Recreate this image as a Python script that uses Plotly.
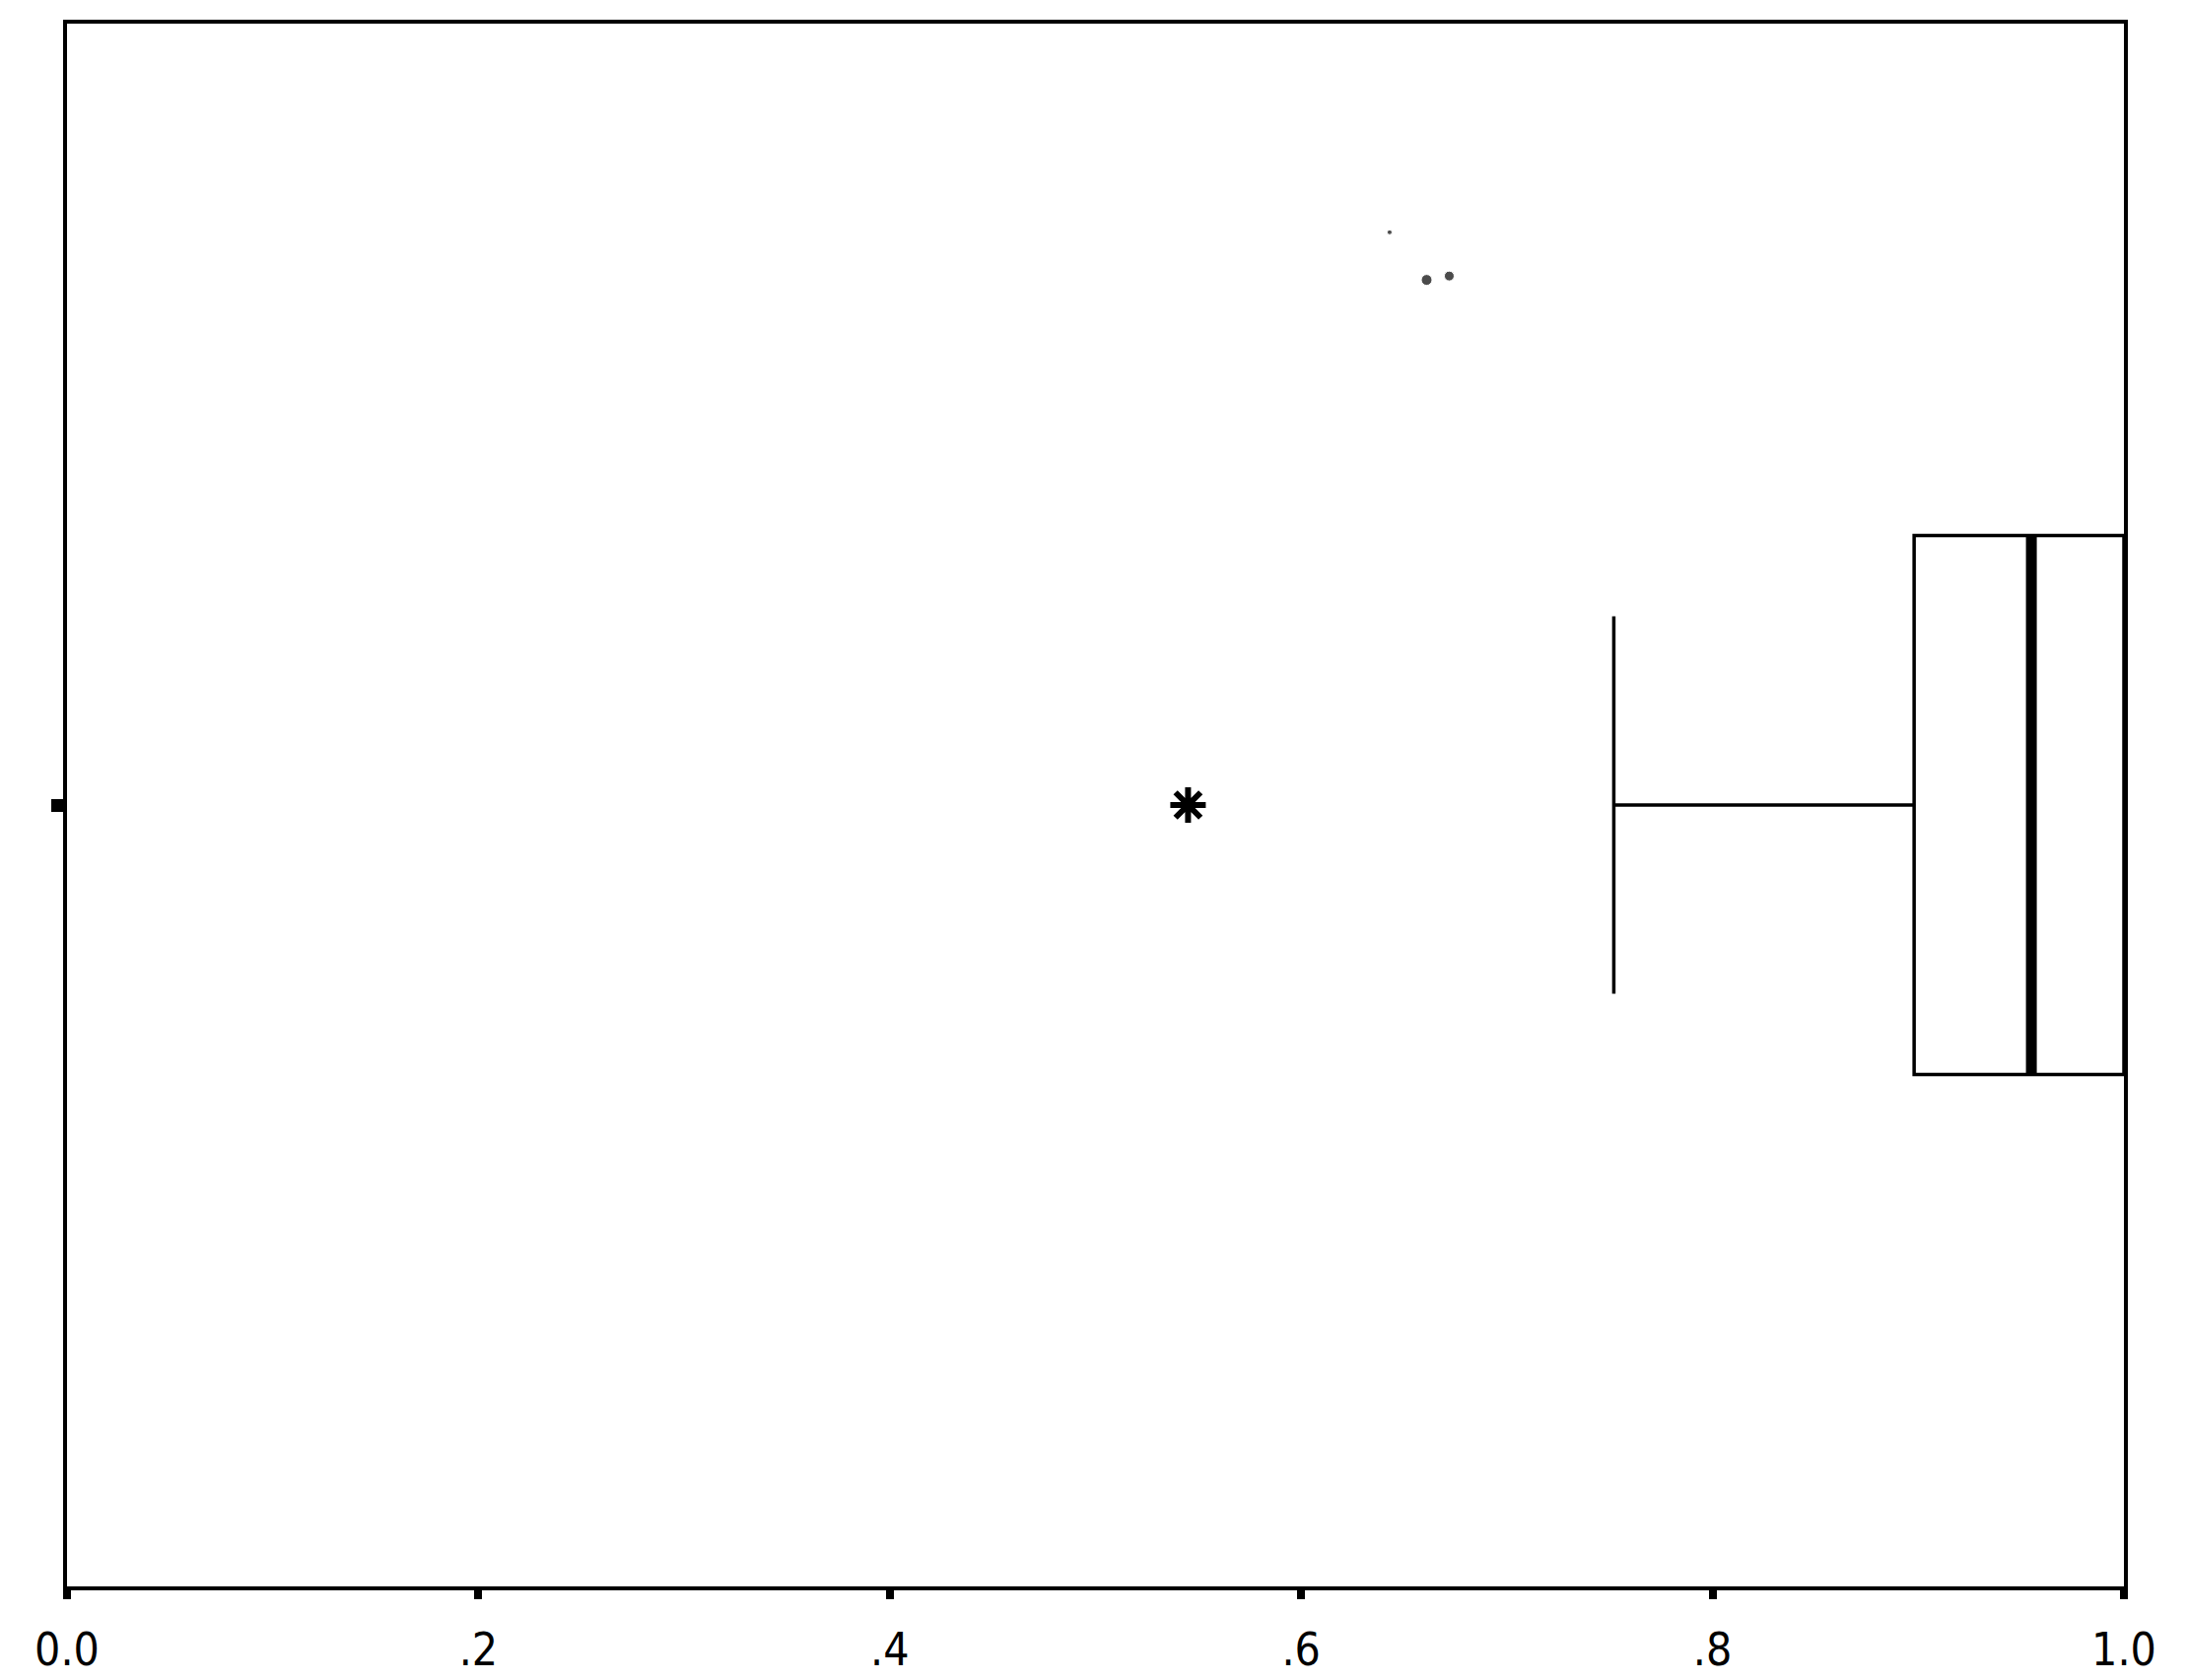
import plotly.graph_objects as go

# ---- data ----
tick_vals = [0.0, 0.2, 0.4, 0.6, 0.8, 1.0]
tick_text = ["0.0", ".2", ".4", ".6", ".8", "1.0"]
q1 = [0.898]
median = [0.955]
q3 = [1.0]
lower_fence = [0.752]
upper_fence = [1.0]
extreme_x = [0.545]
extreme_y = [0.0]
speck_x = [0.643, 0.661, 0.672]
speck_y = [0.733, 0.672, 0.677]

box_width = 0.69
group_pos = 0.0

fig = go.Figure()
fig.add_trace(go.Box(
    orientation="h",
    y=[group_pos],
    q1=q1, median=median, q3=q3,
    lowerfence=lower_fence, upperfence=upper_fence,
    width=box_width,
    whiskerwidth=0.70,
    fillcolor="rgba(255,255,255,0)",
    line=dict(color="black", width=3.5),
    boxpoints=False,
    showlegend=False,
    hoverinfo="skip",
))
# thick median line
fig.add_trace(go.Scatter(
    x=[median[0], median[0]],
    y=[group_pos - box_width / 2, group_pos + box_width / 2],
    mode="lines",
    line=dict(color="black", width=11),
    showlegend=False, hoverinfo="skip",
))
# extreme value (asterisk)
fig.add_trace(go.Scatter(
    x=extreme_x, y=extreme_y,
    mode="markers",
    marker=dict(symbol="asterisk-open", size=30, color="black",
                line=dict(color="black", width=6)),
    showlegend=False, hoverinfo="skip",
))
# small specks
fig.add_trace(go.Scatter(
    x=speck_x, y=speck_y,
    mode="markers",
    marker=dict(symbol="circle", size=[5, 11, 10], color="black"),
    showlegend=False, hoverinfo="skip",
))

fig.update_layout(
    width=2220, height=1705,
    margin=dict(l=60, r=73, t=16, b=100),
    paper_bgcolor="white", plot_bgcolor="white",
    font=dict(family="DejaVu Sans Condensed, Liberation Sans Narrow, Arial, sans-serif",
              size=40, color="black"),
)
fig.update_xaxes(
    range=[0, 1],
    tickvals=tick_vals, ticktext=tick_text,
    ticks="outside", ticklen=9, tickwidth=8, tickcolor="black",
    showline=True, linecolor="black", linewidth=4, mirror=True,
    showgrid=False, zeroline=False,
    tickfont=dict(size=46),
    ticklabelstandoff=12,
)
fig.update_yaxes(
    range=[-1, 1],
    tickvals=[group_pos], ticktext=[""],
    ticks="outside", ticklen=12, tickwidth=13, tickcolor="black",
    showline=True, linecolor="black", linewidth=4, mirror=True,
    showgrid=False, zeroline=False, showticklabels=False,
)

fig.write_html("out.html")
